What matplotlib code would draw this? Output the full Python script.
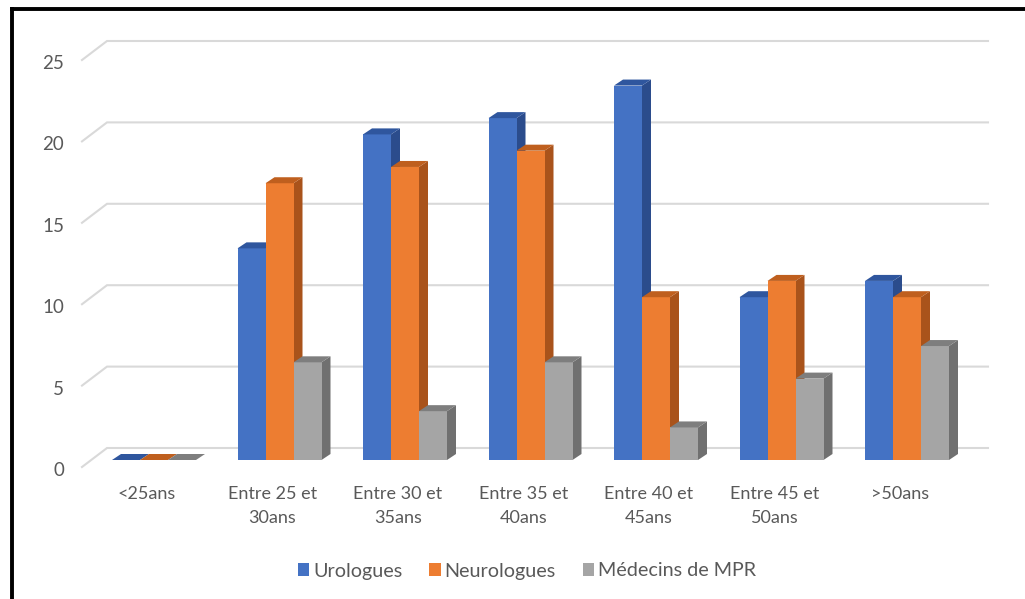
import matplotlib
matplotlib.use("Agg")
import matplotlib.pyplot as plt
from matplotlib.patches import Polygon
from matplotlib.lines import Line2D
from matplotlib.transforms import ScaledTranslation

categories = ["<25ans", "Entre 25 et\n30ans", "Entre 30 et\n35ans", "Entre 35 et\n40ans",
              "Entre 40 et\n45ans", "Entre 45 et\n50ans", ">50ans"]
series_names = ["Urologues", "Neurologues", "Médecins de MPR"]
urologues = [0, 13, 20, 21, 23, 10, 11]
neurologues = [0, 17, 18, 19, 10, 11, 10]
mpr = [0, 6, 3, 6, 2, 5, 7]
yticks = [0, 5, 10, 15, 20, 25]

front_colors = ["#4472C4", "#ED7D31", "#A5A5A5"]
top_colors = ["#2F569E", "#BF5F1E", "#7E7E7E"]
side_colors = ["#2B4C8C", "#A9531B", "#707070"]

plt.rcParams['font.family'] = ['Lato', 'DejaVu Sans']
TXT = "#595959"

W, H = 1025, 599
fig = plt.figure(figsize=(W / 100, H / 100), dpi=100)
fig.patch.set_facecolor("white")

# pixel geometry of the plot
px_unit_x = 125.5
px_unit_y = 16.28
x0_px = 154.0          # centre of first group
y0_px = 460.0          # bar front base
left_px = x0_px - 0.5 * px_unit_x
right_px = x0_px + 6.5 * px_unit_x
top_px = y0_px - 25 * px_unit_y
ax = fig.add_axes([left_px / W, (H - y0_px) / H, (right_px - left_px) / W, (y0_px - top_px) / H])
ax.set_xlim(-0.5, 6.5)
ax.set_ylim(0, 25)
for s in ax.spines.values():
    s.set_visible(False)
ax.set_facecolor("none")

def px2x(px):
    return (px - x0_px) / px_unit_x

def dpx_x(d):
    return d / px_unit_x

def dpx_y(d):
    return d / px_unit_y

# back grid + front diagonals
gx_front = px2x(82)
gx_back = px2x(107)
gx_end = px2x(988)
for v in yticks:
    yf = v - dpx_y(7)
    yb = v + dpx_y(12)
    ax.plot([gx_front, gx_back, gx_end], [yf, yb, yb], color="#D9D9D9", lw=1.5,
            clip_on=False, zorder=1, solid_joinstyle="miter")

# bars with 3D faces
bw = 28 / px_unit_x
ddx = dpx_x(9)
ddy = dpx_y(6)
data = [urologues, neurologues, mpr]
handles = []
for k, vals in enumerate(data):
    xs = [i + (k - 1) * bw for i in range(len(categories))]
    h = ax.bar(xs, vals, width=bw, color=front_colors[k], zorder=3 + k * 3, label=series_names[k],
               clip_on=False)
    handles.append(h)
    for x, v in zip(xs, vals):
        xl, xr = x - bw / 2, x + bw / 2
        ax.add_patch(Polygon([(xl, v), (xr, v), (xr + ddx, v + ddy), (xl + ddx, v + ddy)],
                             closed=True, facecolor=top_colors[k], edgecolor="none",
                             zorder=4 + k * 3, clip_on=False))
        if v > 0:
            ax.add_patch(Polygon([(xr, 0), (xr + ddx, ddy), (xr + ddx, v + ddy), (xr, v)],
                                 closed=True, facecolor=side_colors[k], edgecolor="none",
                                 zorder=2 + k * 3, clip_on=False))

# category labels
ax.set_xticks(range(len(categories)))
ax.set_xticklabels(categories, fontsize=13, color=TXT, linespacing=1.62, va="top")
ax.tick_params(axis="x", length=0, pad=19)
shift_x = ScaledTranslation(-7 / 100, 0, fig.dpi_scale_trans)
for lab in ax.get_xticklabels():
    lab.set_transform(lab.get_transform() + shift_x)

# value labels
ax.set_yticks(yticks)
ax.set_yticklabels([str(v) for v in yticks], fontsize=13.5, color=TXT)
ax.tick_params(axis="y", length=0, pad=19.5)
shift_y = ScaledTranslation(0, -9 / 100, fig.dpi_scale_trans)
for lab in ax.get_yticklabels():
    lab.set_transform(lab.get_transform() + shift_y)

leg = fig.legend(handles=handles, labels=series_names, loc="center", ncol=3,
                 bbox_to_anchor=(527 / W, (H - 571) / H), frameon=False,
                 fontsize=14.2, handlelength=0.58, handleheight=0.58, handletextpad=0.2,
                 columnspacing=1.35)
for t in leg.get_texts():
    t.set_color(TXT)

# black frame (left and top edges)
fig.add_artist(Line2D([12 / W, 12 / W], [0, (H - 9) / H], color="black", lw=2.8,
                      transform=fig.transFigure, solid_capstyle="projecting"))
fig.add_artist(Line2D([12 / W, 1], [(H - 9) / H, (H - 9) / H], color="black", lw=2.8,
                      transform=fig.transFigure, solid_capstyle="projecting"))

fig.savefig("out.png", dpi=100)
